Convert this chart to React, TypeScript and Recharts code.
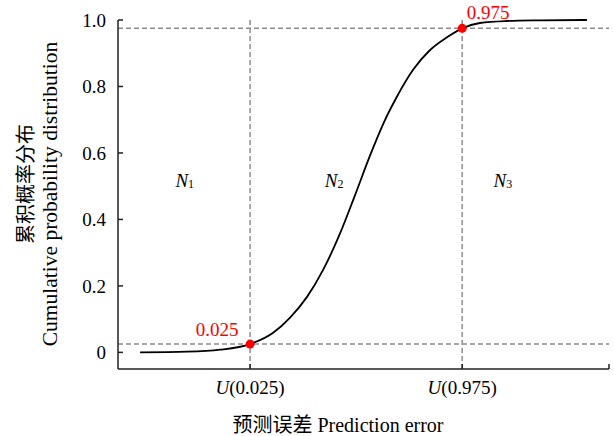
import { ComposedChart, Line, Scatter, XAxis, YAxis, ReferenceLine, ReferenceDot, Label } from 'recharts';

// prediction error axis is drawn on a 0..100 scale (no numeric labels in the figure)
const errorX = [4.5, 14.1, 20.8, 26.9, 31.6, 35.0, 38.5, 41.8, 45.2, 48.3, 51.3, 54.0, 56.8, 60.1, 63.5, 67.0, 70.1, 73.7, 79.2, 85.9, 95.5];
const cdfY = [0.0, 0.002, 0.008, 0.025, 0.059, 0.104, 0.167, 0.249, 0.357, 0.474, 0.591, 0.687, 0.769, 0.85, 0.909, 0.948, 0.975, 0.991, 0.997, 0.999, 1.0];

const quantileX = [26.9, 70.1];
const quantileP = [0.025, 0.975];
const quantileNames = ['0.025', '0.975'];

const yTicks = [0, 0.2, 0.4, 0.6, 0.8, 1.0];

const regionX = [13.6, 44.0, 78.4];
const regionY = [0.52, 0.52, 0.52];
const regionSubs = ['1', '2', '3'];

const data = errorX.map((x, i) => ({ x, cdf: cdfY[i] }));
const regions = regionX.map((x, i) => ({ x, y: regionY[i], sub: regionSubs[i] }));

const FONT = "'Liberation Serif', 'Noto Sans CJK SC', serif";
const DASH = '#8c8c8c';

function XTick(props: any) {
  const { x, y, payload } = props;
  const i = quantileX.indexOf(payload.value);
  if (i < 0) return null;
  return (
    <text x={x} y={y} dy="0.71em" textAnchor="middle" fontSize={19} fontFamily={FONT} fill="#000">
      <tspan fontStyle="italic">U</tspan>({quantileNames[i]})
    </text>
  );
}

function RegionLabel(props: any) {
  const { cx, cy, payload } = props;
  return (
    <text x={cx} y={cy} textAnchor="middle" dominantBaseline="central" fontFamily={FONT} fill="#000">
      <tspan fontSize={19} fontStyle="italic">N</tspan>
      <tspan fontSize={12} dy={4}>{payload.sub}</tspan>
    </text>
  );
}

const pointLabel = (text: string, dx: number, dy: number) => (props: any) => {
  const vb = props.viewBox;
  const cx = vb.x + vb.width / 2;
  const cy = vb.y + vb.height / 2;
  return (
    <text x={cx + dx} y={cy + dy} textAnchor="middle" dominantBaseline="central" fontSize={19} fontFamily={FONT} fill="#ff0000">
      {text}
    </text>
  );
};

export default function App() {
  return (
    <div style={{ position: 'absolute', left: 0, top: 0, width: 614, height: 436, background: '#fff' }}>
      <ComposedChart width={614} height={436} data={data} margin={{ top: 20, right: 5, bottom: 0, left: 0 }}>
        <XAxis
          dataKey="x"
          type="number"
          domain={[0, 100]}
          ticks={[...quantileX, 100]}
          interval={0}
          height={67}
          tickSize={-5}
          tickMargin={17}
          tick={<XTick />}
          stroke="#222"
          strokeWidth={1.5}
          tickLine={{ stroke: '#222', strokeWidth: 1.5 }}
        >
          <Label
            content={() => (
              <text x={338} y={425} textAnchor="middle" dominantBaseline="central" fontSize={20} fontFamily={FONT} fill="#000">
                预测误差 Prediction error
              </text>
            )}
          />
        </XAxis>
        <YAxis
          type="number"
          domain={[-0.05, 1.0]}
          ticks={yTicks}
          interval={0}
          width={118}
          tickSize={-5}
          tickMargin={17}
          tickFormatter={(v: number) => (v === 0 ? '0' : v.toFixed(1))}
          tick={{ fontSize: 19, fontFamily: FONT, fill: '#000' }}
          stroke="#222"
          strokeWidth={1.5}
          tickLine={{ stroke: '#222', strokeWidth: 1.5 }}
        >
          <Label
            content={() => (
              <g fontFamily={FONT} fill="#000">
                <text x={26} y={184} transform="rotate(-90, 26, 184)" textAnchor="middle" dominantBaseline="central" fontSize={20}>
                  累积概率分布
                </text>
                <text x={50} y={194} transform="rotate(-90, 50, 194)" textAnchor="middle" dominantBaseline="central" fontSize={21.5}>
                  Cumulative probability distribution
                </text>
              </g>
            )}
          />
        </YAxis>
        {quantileP.map((p) => (
          <ReferenceLine key={'h' + p} y={p} stroke={DASH} strokeWidth={1.5} strokeDasharray="5 3" />
        ))}
        {quantileX.map((x) => (
          <ReferenceLine key={'v' + x} x={x} stroke={DASH} strokeWidth={1.5} strokeDasharray="5 3" />
        ))}
        <Line type="monotone" dataKey="cdf" stroke="#000" strokeWidth={1.8} dot={false} isAnimationActive={false} />
        <Scatter data={regions} dataKey="y" shape={<RegionLabel />} isAnimationActive={false} />
        <ReferenceDot x={quantileX[0]} y={quantileP[0]} r={4.5} fill="#ff0000" stroke="none" label={pointLabel(quantileNames[0], -33, -15)} />
        <ReferenceDot x={quantileX[1]} y={quantileP[1]} r={4.5} fill="#ff0000" stroke="none" label={pointLabel(quantileNames[1], 26, -16)} />
      </ComposedChart>
    </div>
  );
}
